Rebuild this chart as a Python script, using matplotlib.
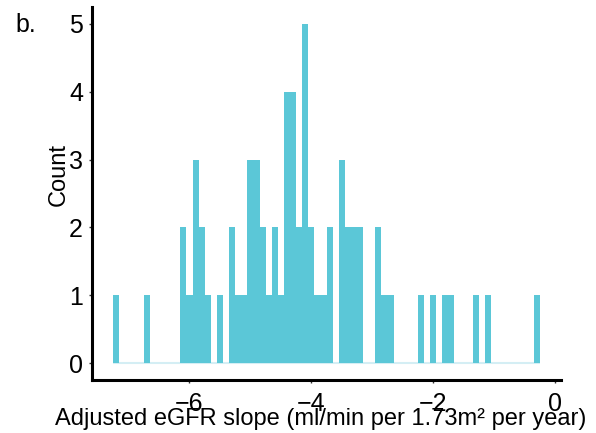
import numpy as np
import matplotlib.pyplot as plt

plt.rcParams['font.family'] = ['Liberation Sans', 'DejaVu Sans']

# histogram of adjusted eGFR slope, bins of width 0.1 starting at -7.25
bin_start = -7.25
bin_width = 0.1
counts = [1, 0, 0, 0, 0, 1, 0, 0, 0, 0,
          0, 2, 1, 3, 2, 1, 0, 1, 0, 2,
          1, 1, 3, 3, 2, 1, 2, 1, 4, 4,
          2, 5, 2, 1, 1, 2, 0, 3, 2, 2,
          2, 0, 0, 2, 1, 1, 0, 0, 0, 0,
          1, 0, 1, 0, 1, 1, 0, 0, 0, 1,
          0, 1, 0, 0, 0, 0, 0, 0, 0, 1]
x_ticks = [-6, -4, -2, 0]
y_ticks = [0, 1, 2, 3, 4, 5]

counts = np.array(counts)
lefts = bin_start + bin_width * np.arange(len(counts))
bar_color = '#5bc7d7'

fig = plt.figure(figsize=(5.96, 4.33), dpi=100)
ax = fig.add_axes([0.1544, 0.1224, 0.7869, 0.8614])

ax.hlines(0, lefts[0], lefts[-1] + bin_width, color='#d4eef4', lw=1.5, zorder=1)
ax.bar(lefts, counts, width=bin_width, align='edge', color=bar_color,
       linewidth=0, zorder=2)

ax.set_xlim(-7.6, 0.1)
ax.set_ylim(-0.25, 5.25)
ax.set_xticks(x_ticks)
ax.set_xticklabels(['\u2212' + str(abs(v)) if v < 0 else str(v) for v in x_ticks])
ax.set_yticks(y_ticks)

for s in ['top', 'right']:
    ax.spines[s].set_visible(False)
for s in ['left', 'bottom']:
    ax.spines[s].set_linewidth(2.2)
    ax.spines[s].set_color('black')

ax.tick_params(axis='both', length=2.5, width=1, color='#333333',
               labelsize=18, labelcolor='black')
ax.tick_params(axis='x', pad=6)
ax.tick_params(axis='y', pad=4)

ax.set_ylabel('Count', fontsize=17)
ax.yaxis.set_label_coords(-0.047, 0.55)

fig.text(321 / 596, 0.0185, 'Adjusted eGFR slope (ml/min per 1.73m\u00b2 per year)',
         fontsize=17, ha='center', va='baseline')
fig.text(15 / 596, 1 - 32 / 433, 'b.', fontsize=18, ha='left', va='baseline')

fig.savefig('out.png', dpi=100)
